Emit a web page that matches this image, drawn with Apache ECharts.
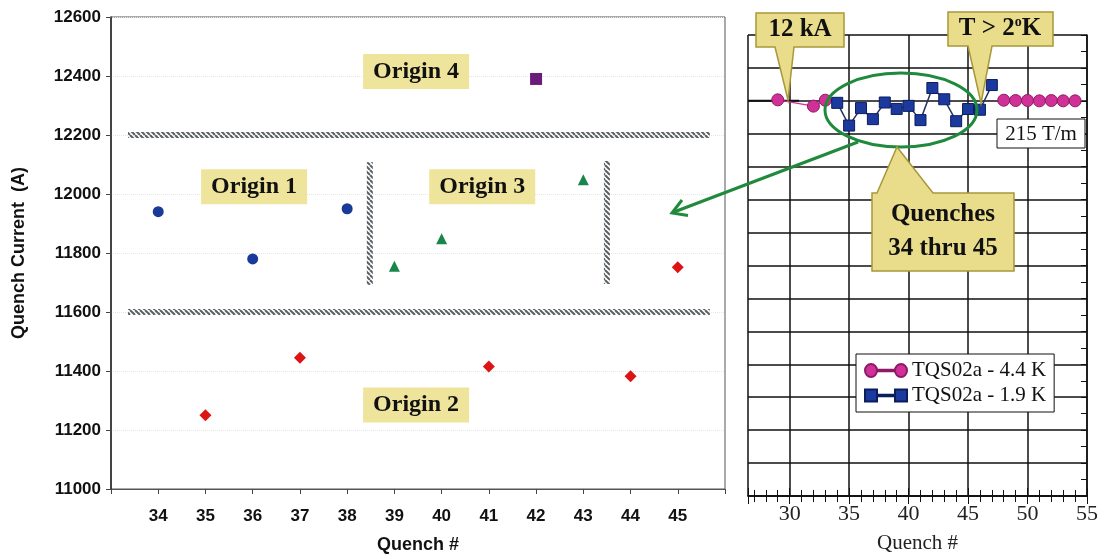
<!DOCTYPE html>
<html><head><meta charset="utf-8">
<script src="https://cdn.jsdelivr.net/npm/echarts@6/dist/echarts.min.js"></script>
<style>html,body{margin:0;padding:0;background:#fff}#c{width:1104px;height:559px}</style>
</head><body><div id="c"></div>
<script>
// ---------- Left chart: quenches 34..45 grouped by origin ----------
const leftXLabels = ['34','35','36','37','38','39','40','41','42','43','44','45'];
const origin1 = [[34, 11940], [36, 11780], [38, 11950]];
const origin2 = [[35, 11250], [37, 11445], [41, 11415], [44, 11382], [45, 11752]];
const origin3 = [[39, 11755], [40, 11848], [43, 12048]];
const origin4 = [[42, 12390]];
const originLabels = [[36.03, 12025, 'Origin 1'], [39.46, 11285, 'Origin 2'], [40.86, 12025, 'Origin 3'], [39.46, 12415, 'Origin 4']];
const separators = [[33.36, 12200, 45.68, 12200], [33.36, 11600, 45.68, 11600], [38.48, 12108, 38.48, 11692], [43.5, 12112, 43.5, 11695]];

// ---------- Right chart: TQS02a quench history ----------
const rightXLabels = ['30','35','40','45','50','55'];
const tqs44Early = [[29, 12030], [32, 11840], [33, 12020]];
const tqs44Late = [[48, 12020], [49, 12010], [50, 12010], [51, 12000], [52, 12010], [53, 12000], [54, 12000]];
const tqs19 = [[34, 11940], [35, 11250], [36, 11780], [37, 11445], [38, 11950], [39, 11755], [40, 11848], [41, 11415], [42, 12390], [43, 12048], [44, 11382], [45, 11752], [46, 11730], [47, 12480]];
const ref12kA = [[26.5, 12000], [30.8, 12000]];

const hatch = document.createElement('canvas');
hatch.width = 5; hatch.height = 5;
const hc = hatch.getContext('2d');
hc.strokeStyle = '#5c6064'; hc.lineWidth = 2;
for (const k of [-5, 0, 5]) { hc.beginPath(); hc.moveTo(k, 0); hc.lineTo(k + 5, 5); hc.stroke(); }

const SANS = 'Liberation Sans';
const SERIF = 'Liberation Serif';
const calloutFill = '#e9dd8c', calloutStroke = '#a8983a';
const iconCircles = 'path://M0,6.5A6,6.5,0,1,0,12,6.5A6,6.5,0,1,0,0,6.5ZM12,5.8L30,5.8L30,7.2L12,7.2ZM30,6.5A6,6.5,0,1,0,42,6.5A6,6.5,0,1,0,30,6.5Z';
const iconSquares = 'path://M0,0.5L12,0.5L12,12.5L0,12.5ZM12,5.8L30,5.8L30,7.2L12,7.2ZM30,0.5L42,0.5L42,12.5L30,12.5Z';

const chart = echarts.init(document.getElementById('c'), null, {renderer: 'canvas'});
chart.setOption({
  animation: false,
  backgroundColor: '#ffffff',
  textStyle: {fontFamily: SANS},
  grid: [
    {left: 111, top: 17, width: 614, height: 472, show: true, borderColor: '#555', borderWidth: 1, backgroundColor: 'transparent', outerBoundsMode: 'none', containLabel: false},
    {left: 748, top: 35, width: 339, height: 461, outerBoundsMode: 'none', containLabel: false}
  ],
  xAxis: [
    {gridIndex: 0, type: 'value', min: 33, max: 46, interval: 1,
      axisLine: {show: true, lineStyle: {color: '#555', width: 1}},
      axisTick: {show: true, length: 5, lineStyle: {color: '#444'}},
      splitLine: {show: false},
      axisLabel: {margin: 19, fontFamily: SANS, fontWeight: 'bold', fontSize: 17, color: '#111',
        formatter: v => (leftXLabels.indexOf(String(v)) >= 0 ? String(v) : '')},
      name: 'Quench #', nameLocation: 'middle', nameGap: 47,
      nameTextStyle: {fontFamily: SANS, fontWeight: 'bold', fontSize: 18, color: '#111'}},
    {gridIndex: 1, type: 'value', min: 26.5, max: 55, splitNumber: 5,
      axisLine: {show: true, lineStyle: {color: '#111', width: 1.5}},
      axisTick: {show: true, inside: true, length: 8, lineStyle: {color: '#111'}},
      minorTick: {show: true, splitNumber: 5, length: 6, lineStyle: {color: '#111'}},
      splitLine: {show: true, lineStyle: {color: '#111', width: 1.5}},
      axisLabel: {showMinLabel: false, margin: 7, fontFamily: SERIF, fontSize: 22, color: '#222',
        formatter: v => (rightXLabels.indexOf(String(v)) >= 0 ? String(v) : '')},
      name: 'Quench #', nameLocation: 'middle', nameGap: 37,
      nameTextStyle: {fontFamily: SERIF, fontSize: 21, color: '#222'}},
    {gridIndex: 1, type: 'value', position: 'top', min: 26.5, max: 55, splitNumber: 5,
      axisLine: {show: true, lineStyle: {color: '#111', width: 1.5}},
      axisTick: {show: true, inside: true, length: 8, lineStyle: {color: '#111'}},
      minorTick: {show: true, splitNumber: 5, length: 6, lineStyle: {color: '#111'}},
      splitLine: {show: false}, axisLabel: {show: false}}
  ],
  yAxis: [
    {gridIndex: 0, type: 'value', min: 11000, max: 12600, interval: 200,
      axisLine: {show: true, lineStyle: {color: '#222', width: 1.5}},
      axisTick: {show: true, length: 5, lineStyle: {color: '#444'}},
      splitLine: {show: true, lineStyle: {color: '#e6e6e6', width: 1, type: 'dotted'}},
      axisLabel: {margin: 10, fontFamily: SANS, fontWeight: 'bold', fontSize: 17, color: '#111', formatter: v => String(v)},
      name: 'Quench Current  (A)', nameLocation: 'middle', nameGap: 83, nameRotate: 90,
      nameTextStyle: {fontFamily: SANS, fontWeight: 'bold', fontSize: 18, color: '#111'}},
    {gridIndex: 1, type: 'value', min: 0, max: 14000, interval: 1000,
      axisLine: {show: false}, axisTick: {show: false}, axisLabel: {show: false},
      splitLine: {show: true, lineStyle: {color: '#111', width: 1.5}}},
    {gridIndex: 1, type: 'value', position: 'right', min: 0, max: 14000, interval: 1000,
      axisLine: {show: true, lineStyle: {color: '#111', width: 1.5}},
      axisTick: {show: true, inside: true, length: 6, lineStyle: {color: '#111'}},
      minorTick: {show: true, splitNumber: 2, length: 6, lineStyle: {color: '#111'}},
      axisLabel: {show: false}, splitLine: {show: false}}
  ],
  legend: {
    data: [{name: 'TQS02a - 4.4 K', icon: iconCircles}, {name: 'TQS02a - 1.9 K', icon: iconSquares}],
    orient: 'vertical', left: 856, top: 354,
    backgroundColor: '#fff', borderColor: '#111', borderWidth: 1, borderRadius: 0,
    padding: [6, 8, 6, 8], itemGap: 4, itemWidth: 42, itemHeight: 13,
    textStyle: {fontFamily: SERIF, fontSize: 21, color: '#111'}
  },
  series: [
    {type: 'custom', xAxisIndex: 0, yAxisIndex: 0, data: separators, encode: {x: [0, 2], y: [1, 3]}, silent: true, z: 1,
      renderItem: function (params, api) {
        const a = api.coord([api.value(0), api.value(1)]);
        const b = api.coord([api.value(2), api.value(3)]);
        const t = 6;
        let shape;
        if (Math.abs(a[1] - b[1]) < 1) shape = {x: Math.min(a[0], b[0]), y: a[1] - t / 2, width: Math.abs(b[0] - a[0]), height: t};
        else shape = {x: a[0] - t / 2, y: Math.min(a[1], b[1]), width: t, height: Math.abs(b[1] - a[1])};
        return {type: 'rect', shape: shape, style: {fill: {image: hatch, repeat: 'repeat'}}};
      }},
    {type: 'scatter', name: 'Origin 1', xAxisIndex: 0, yAxisIndex: 0, data: origin1, symbol: 'circle', symbolSize: 11, itemStyle: {color: '#1a3a9a', opacity: 1}, z: 4},
    {type: 'scatter', name: 'Origin 2', xAxisIndex: 0, yAxisIndex: 0, data: origin2, symbol: 'diamond', symbolSize: 12, itemStyle: {color: '#dc1414', opacity: 1}, z: 4},
    {type: 'scatter', name: 'Origin 3', xAxisIndex: 0, yAxisIndex: 0, data: origin3, symbol: 'triangle', symbolSize: 11, itemStyle: {color: '#18864a', opacity: 1}, z: 4},
    {type: 'scatter', name: 'Origin 4', xAxisIndex: 0, yAxisIndex: 0, data: origin4, symbol: 'rect', symbolSize: 12, itemStyle: {color: '#6a1a78', opacity: 1}, z: 4},
    {type: 'scatter', name: 'labels', xAxisIndex: 0, yAxisIndex: 0, silent: true, symbolSize: 1, itemStyle: {color: 'rgba(0,0,0,0)', opacity: 1}, z: 5,
      data: originLabels.map(d => ({value: [d[0], d[1]], name: d[2]})),
      label: {show: true, position: 'inside', formatter: p => p.name, backgroundColor: '#efe49c', padding: [4, 10, 3, 10],
        fontFamily: SERIF, fontWeight: 'bold', fontSize: 24, lineHeight: 28, color: '#111', opacity: 1}},
    {type: 'line', name: '12 kA', xAxisIndex: 1, yAxisIndex: 1, data: ref12kA, symbol: 'none', lineStyle: {color: '#111', width: 2}, z: 2},
    {type: 'line', name: 'TQS02a - 4.4 K', xAxisIndex: 1, yAxisIndex: 1, data: tqs44Early, symbol: 'circle', symbolSize: 12,
      itemStyle: {color: '#cf3196', borderColor: '#8e1a66', borderWidth: 1}, lineStyle: {color: '#cf3196', width: 1.5}, z: 3},
    {type: 'line', name: 'TQS02a - 4.4 K', xAxisIndex: 1, yAxisIndex: 1, data: tqs44Late, symbol: 'circle', symbolSize: 12,
      itemStyle: {color: '#cf3196', borderColor: '#8e1a66', borderWidth: 1}, lineStyle: {color: '#cf3196', width: 1.5}, z: 3},
    {type: 'line', name: 'TQS02a - 1.9 K', xAxisIndex: 1, yAxisIndex: 1, data: tqs19, symbol: 'rect', symbolSize: 11,
      itemStyle: {color: '#1c3a9e', borderColor: '#0a1d5e', borderWidth: 1}, lineStyle: {color: '#26345a', width: 1.5}, z: 4}
  ],
  graphic: [
    {type: 'ellipse', z: 100, shape: {cx: 901, cy: 110, rx: 76, ry: 37}, style: {fill: 'none', stroke: '#1f8a3c', lineWidth: 3}},
    {type: 'line', z: 100, shape: {x1: 858, y1: 142, x2: 674, y2: 212}, style: {stroke: '#1f8a3c', lineWidth: 3}},
    {type: 'polyline', z: 100, shape: {points: [[682, 200], [672, 213], [688, 215.5]]}, style: {fill: 'none', stroke: '#1f8a3c', lineWidth: 3, lineJoin: 'miter'}},
    {type: 'polygon', z: 101, shape: {points: [[756, 13], [844, 13], [844, 47], [794, 47], [788, 100], [775, 47], [756, 47]]},
      style: {fill: calloutFill, stroke: calloutStroke, lineWidth: 1.5}},
    {type: 'text', z: 102, x: 800, y: 30, style: {text: '12 kA', align: 'center', verticalAlign: 'middle', fill: '#111', font: 'bold 25px "Liberation Serif"'}},
    {type: 'polygon', z: 101, shape: {points: [[948, 12], [1053, 12], [1053, 46], [992, 46], [981, 103], [968, 46], [948, 46]]},
      style: {fill: calloutFill, stroke: calloutStroke, lineWidth: 1.5}},
    {type: 'text', z: 102, x: 1000, y: 29, style: {text: '{a|T > 2}{s|o}{a|K}', align: 'center', verticalAlign: 'middle',
      rich: {a: {fontFamily: SERIF, fontWeight: 'bold', fontSize: 25, lineHeight: 28, fill: '#111'},
             s: {fontFamily: SERIF, fontWeight: 'bold', fontSize: 14, lineHeight: 28, fill: '#111', verticalAlign: 'top'}}}},
    {type: 'polygon', z: 101, shape: {points: [[872, 193], [877, 193], [897, 147], [933, 193], [1014, 193], [1014, 271], [872, 271]]},
      style: {fill: calloutFill, stroke: calloutStroke, lineWidth: 1.5}},
    {type: 'text', z: 102, x: 943, y: 232, style: {text: 'Quenches\n34 thru 45', align: 'center', verticalAlign: 'middle', lineHeight: 34, fill: '#111', font: 'bold 25px "Liberation Serif"'}},
    {type: 'rect', z: 101, shape: {x: 997, y: 119, width: 88, height: 29}, style: {fill: '#fff', stroke: '#111', lineWidth: 1}},
    {type: 'text', z: 102, x: 1041, y: 134, style: {text: '215 T/m', align: 'center', verticalAlign: 'middle', fill: '#111', font: '21px "Liberation Serif"'}}
  ]
});
</script>
</body></html>
